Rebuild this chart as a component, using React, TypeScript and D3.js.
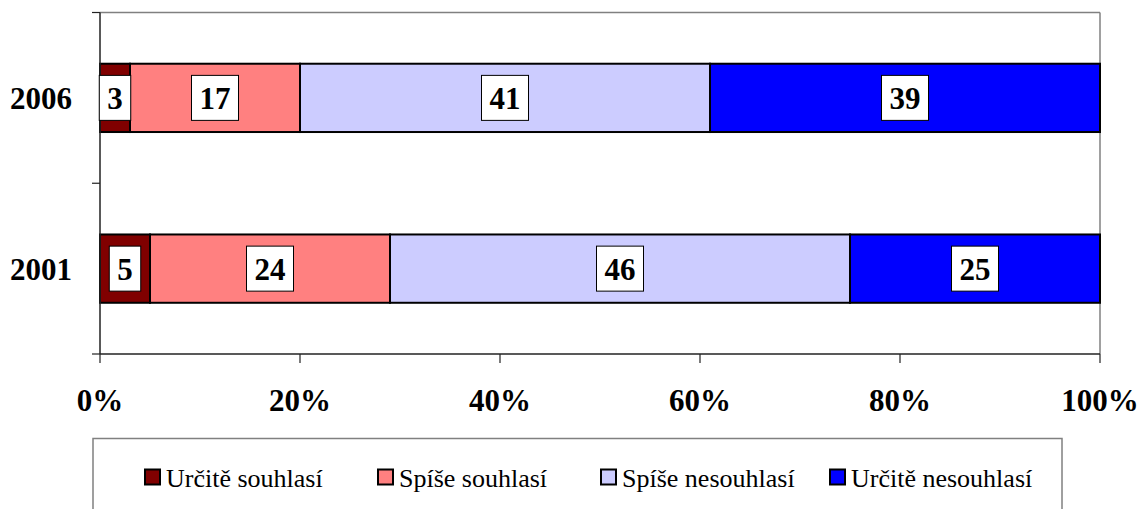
import React from "react";
import * as d3 from "d3";

const years = ["2006", "2001"];
const seriesNames = ["Určitě souhlasí", "Spíše souhlasí", "Spíše nesouhlasí", "Určitě nesouhlasí"];
const seriesColors = ["#800000", "#FF8080", "#CCCCFF", "#0000FF"];
const values2006 = [3, 17, 41, 39];
const values2001 = [5, 24, 46, 25];
const xTicks = [0, 20, 40, 60, 80, 100];

const W = 1142;
const H = 509;
const plot = { left: 100, right: 1100, top: 12.5, bottom: 354 };
const serif = "Liberation Serif";

export default function App() {
  const x = d3.scaleLinear().domain([0, 100]).range([plot.left, plot.right]);
  const y = d3.scaleBand().domain(years).range([plot.top, plot.bottom]).paddingInner(0.6).paddingOuter(0.3);
  const rows = [
    { year: "2006", vals: values2006 },
    { year: "2001", vals: values2001 },
  ];
  const stackData = rows.map((r) => {
    const o: any = { year: r.year };
    seriesNames.forEach((s, i) => (o[s] = r.vals[i]));
    return o;
  });
  const stacked = d3.stack().keys(seriesNames)(stackData);
  const bandEdges = [plot.top, (plot.top + plot.bottom) / 2, plot.bottom];

  const legendX = [145, 378, 601, 830];

  return (
    <svg width={W} height={H} style={{ position: "absolute", left: 0, top: 0, background: "#fff" }}>
      <line x1={plot.left} x2={plot.right} y1={plot.top} y2={plot.top} stroke="#808080" strokeWidth={1.5} />
      <line x1={plot.right} x2={plot.right} y1={plot.top} y2={plot.bottom} stroke="#808080" strokeWidth={1.5} />
      {stacked.map((layer, si) =>
        layer.map((d, ri) => (
          <rect
            key={`${si}-${ri}`}
            x={x(d[0])}
            y={y(rows[ri].year)!}
            width={x(d[1]) - x(d[0])}
            height={y.bandwidth()}
            fill={seriesColors[si]}
            stroke="#000"
            strokeWidth={2}
          />
        ))
      )}
      <line x1={plot.left} x2={plot.left} y1={plot.top} y2={plot.bottom} stroke="#222" strokeWidth={1.5} />
      <line x1={plot.left} x2={plot.right} y1={plot.bottom} y2={plot.bottom} stroke="#222" strokeWidth={1.5} />
      {bandEdges.map((v, i) => (
        <line key={i} x1={92} x2={plot.left} y1={v} y2={v} stroke="#222" strokeWidth={1.2} />
      ))}
      {xTicks.map((t) => (
        <g key={t}>
          <line x1={x(t)} x2={x(t)} y1={plot.bottom} y2={363} stroke="#222" strokeWidth={1.2} />
          <text x={x(t)} y={411} textAnchor="middle" fontFamily={serif} fontWeight="bold" fontSize={31}>
            {t}%
          </text>
        </g>
      ))}
      {years.map((yr) => (
        <text key={yr} x={41} y={y(yr)! + y.bandwidth() / 2 + 11} textAnchor="middle" fontFamily={serif} fontWeight="bold" fontSize={31}>
          {yr}
        </text>
      ))}
      {stacked.map((layer, si) =>
        layer.map((d, ri) => {
          const v = rows[ri].vals[si];
          const cx = (x(d[0]) + x(d[1])) / 2;
          const cy = y(rows[ri].year)! + y.bandwidth() / 2;
          const bw = String(v).length * 15.5 + 16;
          return (
            <g key={`l-${si}-${ri}`}>
              <rect x={cx - bw / 2} y={cy - 22.5} width={bw} height={45} fill="#fff" stroke="#000" strokeWidth={1} />
              <text x={cx} y={cy + 11} textAnchor="middle" fontFamily={serif} fontWeight="bold" fontSize={31}>
                {v}
              </text>
            </g>
          );
        })
      )}
      <rect x={93} y={438.5} width={969} height={100} fill="#fff" stroke="#808080" strokeWidth={1.5} />
      {seriesNames.map((s, i) => (
        <g key={s}>
          <rect x={legendX[i]} y={469.5} width={15} height={15} fill={seriesColors[i]} stroke="#000" strokeWidth={2} />
          <text x={legendX[i] + 21} y={487} fontFamily={serif} fontSize={26}>
            {s}
          </text>
        </g>
      ))}
    </svg>
  );
}
